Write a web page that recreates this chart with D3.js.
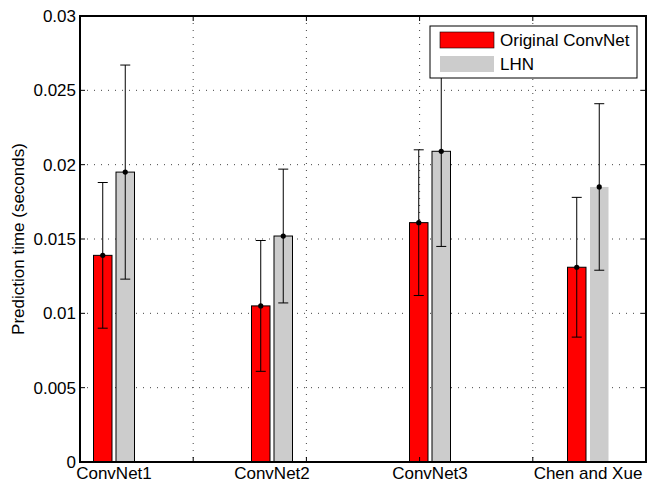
<!DOCTYPE html>
<html>
<head>
<meta charset="utf-8">
<script src="https://cdn.jsdelivr.net/npm/d3@7"></script>
<style>
  html, body { margin: 0; padding: 0; background: #fff; }
  text { font-family: "Liberation Sans", Arial, Helvetica, sans-serif; }
</style>
</head>
<body>
<svg id="chart" width="657" height="483"></svg>
<script>
// ---- data ----
const categories = ["ConvNet1", "ConvNet2", "ConvNet3", "Chen and Xue"];
const seriesNames = ["Original ConvNet", "LHN"];
const originalMean = [0.0139, 0.0105, 0.0161, 0.0131];
const originalErr  = [0.0049, 0.0044, 0.0049, 0.0047];
const lhnMean      = [0.0195, 0.0152, 0.0209, 0.0185];
const lhnErr       = [0.0072, 0.0045, 0.0064, 0.0056];
const yTicks = [0, 0.005, 0.01, 0.015, 0.02, 0.025, 0.03];
const yTickLabels = ["0", "0.005", "0.01", "0.015", "0.02", "0.025", "0.03"];
const xGridTicks = [1, 2, 3, 4];

const colors = ["#ff0000", "#cccccc"];

(function () {
const svg = d3.select("#chart");
const L = 80, R = 646, T = 16, B = 462;
const fs = 17;

const y = d3.scaleLinear().domain([0, 0.03]).range([B, T]);
const xg = d3.scaleLinear().domain([0, 5]).range([L, R]);
const x0 = d3.scalePoint().domain(categories).range([114, 588]);
const x1 = d3.scaleBand().domain(seriesNames).range([-20.5, 20.5]).paddingInner(0.178);

// grid
const grid = svg.append("g");
grid.selectAll("line.h").data(yTicks.slice(1, -1)).join("line")
  .attr("x1", L).attr("x2", R)
  .attr("y1", d => y(d)).attr("y2", d => y(d))
  .attr("stroke", "#444").attr("stroke-width", 1).attr("stroke-dasharray", "1,6");
grid.selectAll("line.v").data(xGridTicks).join("line")
  .attr("y1", T).attr("y2", B)
  .attr("x1", d => xg(d)).attr("x2", d => xg(d))
  .attr("stroke", "#444").attr("stroke-width", 1).attr("stroke-dasharray", "1,6");

// bars
const rows = [];
categories.forEach((c, i) => {
  rows.push({cat: c, s: seriesNames[0], si: 0, i, v: originalMean[i], e: originalErr[i]});
  rows.push({cat: c, s: seriesNames[1], si: 1, i, v: lhnMean[i], e: lhnErr[i]});
});
const cx = d => x0(d.cat) + x1(d.s) + x1.bandwidth() / 2;

const plot = svg.append("g");
plot.selectAll("rect").data(rows).join("rect")
  .attr("x", d => x0(d.cat) + x1(d.s))
  .attr("width", x1.bandwidth())
  .attr("y", d => y(d.v))
  .attr("height", d => y(0) - y(d.v))
  .attr("fill", d => colors[d.si])
  .attr("stroke", d => (d.si === 1 && d.i === 3) ? "none" : "#000")
  .attr("stroke-width", 1);

// error bars
const eb = plot.selectAll("g.eb").data(rows).join("g");
eb.append("line")
  .attr("x1", cx).attr("x2", cx)
  .attr("y1", d => y(d.v + d.e)).attr("y2", d => y(d.v - d.e))
  .attr("stroke", "#000").attr("stroke-width", 1);
eb.append("line")
  .attr("x1", d => cx(d) - 5).attr("x2", d => cx(d) + 5)
  .attr("y1", d => y(d.v + d.e)).attr("y2", d => y(d.v + d.e))
  .attr("stroke", "#000").attr("stroke-width", 1);
eb.append("line")
  .attr("x1", d => cx(d) - 5).attr("x2", d => cx(d) + 5)
  .attr("y1", d => y(d.v - d.e)).attr("y2", d => y(d.v - d.e))
  .attr("stroke", "#000").attr("stroke-width", 1);
eb.append("circle")
  .attr("cx", cx).attr("cy", d => y(d.v)).attr("r", 2.6).attr("fill", "#000");

// axes box
const ax = svg.append("g");
ax.append("rect").attr("x", L).attr("y", T)
  .attr("width", R - L).attr("height", B - T)
  .attr("fill", "none").attr("stroke", "#000").attr("stroke-width", 2);

ax.selectAll("line.yt").data(yTicks).join("line")
  .attr("x1", L).attr("x2", L + 5)
  .attr("y1", d => y(d)).attr("y2", d => y(d))
  .attr("stroke", "#000");
ax.selectAll("line.yt2").data(yTicks).join("line")
  .attr("x1", R).attr("x2", R - 5)
  .attr("y1", d => y(d)).attr("y2", d => y(d))
  .attr("stroke", "#000");
ax.selectAll("line.xt").data(xGridTicks).join("line")
  .attr("x1", d => xg(d)).attr("x2", d => xg(d))
  .attr("y1", B).attr("y2", B - 5)
  .attr("stroke", "#000");
ax.selectAll("line.xt2").data(xGridTicks).join("line")
  .attr("x1", d => xg(d)).attr("x2", d => xg(d))
  .attr("y1", T).attr("y2", T + 5)
  .attr("stroke", "#000");

ax.selectAll("text.yl").data(yTicks).join("text")
  .attr("x", L - 4).attr("y", d => y(d))
  .attr("dy", "0.35em").attr("text-anchor", "end")
  .attr("font-size", fs).attr("fill", "#000")
  .text((d, i) => yTickLabels[i]);

ax.selectAll("text.xl").data(categories).join("text")
  .attr("x", d => x0(d)).attr("y", B + 17)
  .attr("text-anchor", "middle")
  .attr("font-size", fs).attr("fill", "#000")
  .text(d => d);

svg.append("text")
  .attr("transform", `translate(24, ${(T + B) / 2}) rotate(-90)`)
  .attr("text-anchor", "middle").attr("font-size", fs)
  .text("Prediction time (seconds)");

// legend
const lg = svg.append("g");
lg.append("rect").attr("x", 430).attr("y", 26).attr("width", 207).attr("height", 52)
  .attr("fill", "#fff").attr("stroke", "#000").attr("stroke-width", 1);
seriesNames.forEach((s, i) => {
  lg.append("rect").attr("x", 440).attr("y", 32 + i * 24).attr("width", 54).attr("height", 16)
    .attr("fill", colors[i]).attr("stroke", i === 0 ? "#000" : "none").attr("stroke-width", 0.6);
  lg.append("text").attr("x", 500).attr("y", 40 + i * 24).attr("dy", "0.35em")
    .attr("font-size", fs).text(s);
});
})();
</script>
</body>
</html>
